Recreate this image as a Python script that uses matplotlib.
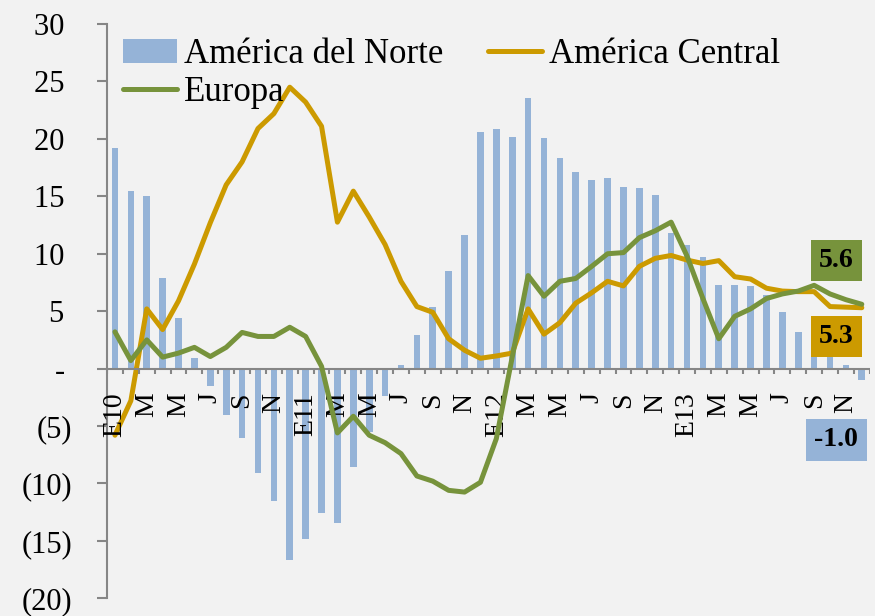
import matplotlib
matplotlib.use("Agg")
import matplotlib.pyplot as plt
import numpy as np

# monthly growth, Jan 2010 - Dec 2013
norte = [19.2, 15.5, 15.0, 7.9, 4.4, 0.9, -1.5, -4.0, -6.0, -9.1, -11.5, -16.7,
         -14.85, -12.6, -13.4, -8.6, -5.5, -2.35, 0.3, 2.9, 5.35, 8.5, 11.6, 20.6,
         20.9, 20.2, 23.6, 20.1, 18.3, 17.1, 16.4, 16.6, 15.85, 15.7, 15.15, 11.8,
         10.8, 9.75, 7.3, 7.3, 7.15, 6.4, 4.9, 3.2, 1.8, 1.0, 0.35, -1.0]
central = [-5.8, -2.8, 5.2, 3.4, 5.9, 9.1, 12.7, 16.0, 18.0, 20.9, 22.2, 24.5,
           23.2, 21.1, 12.75, 15.45, 13.2, 10.8, 7.6, 5.4, 4.9, 2.6, 1.6, 0.9,
           1.1, 1.35, 5.2, 3.0, 4.0, 5.7, 6.6, 7.6, 7.2, 8.9, 9.6, 9.85,
           9.45, 9.15, 9.4, 8.0, 7.8, 7.0, 6.75, 6.7, 6.7, 5.4, 5.35, 5.3]
europa = [3.2, 0.7, 2.5, 1.0, 1.35, 1.85, 1.05, 1.85, 3.15, 2.8, 2.8, 3.6,
          2.8, 0.2, -5.6, -4.15, -5.8, -6.45, -7.4, -9.35, -9.8, -10.6, -10.75, -9.9,
          -6.1, 1.0, 8.1, 6.3, 7.6, 7.85, 8.9, 10.0, 10.1, 11.4, 12.0, 12.75,
          9.8, 6.1, 2.6, 4.55, 5.2, 6.1, 6.5, 6.75, 7.25, 6.5, 6.0, 5.6]
month_labels = ['E10', 'M', 'M', 'J', 'S', 'N', 'E11', 'M', 'M', 'J', 'S', 'N',
                'E12', 'M', 'M', 'J', 'S', 'N', 'E13', 'M', 'M', 'J', 'S', 'N']
y_ticks = [30, 25, 20, 15, 10, 5, 0, -5, -10, -15, -20]
y_labels = ['30 ', '25 ', '20 ', '15 ', '10 ', '5 ', '- ', '(5)', '(10)', '(15)', '(20)']
end_labels = ['5.6', '5.3', '-1.0']

c_norte = '#95B3D7'
c_central = '#CC9A00'
c_europa = '#77933C'
bg = '#F2F2F2'
grey = '#868686'

plt.rcParams['font.family'] = ['Liberation Serif', 'DejaVu Serif']

fig = plt.figure(figsize=(8.75, 6.16), dpi=100, facecolor=bg)
ax = fig.add_axes([0.1223, 0.0287, 0.8717, 0.9323])
ax.set_facecolor(bg)

x = np.arange(len(norte))
bars = ax.bar(x, norte, width=0.42, color=c_norte, label='América del Norte', zorder=2)
l_cen, = ax.plot(x, central, color=c_central, lw=3.6, label='América Central',
                 solid_capstyle='round', zorder=3)
l_eur, = ax.plot(x, europa, color=c_europa, lw=3.6, label='Europa',
                 solid_capstyle='round', zorder=4)

ax.set_xlim(-0.5, len(norte) - 0.5)
ax.set_ylim(-20, 30)

# ejes
for s in ['top', 'right', 'bottom']:
    ax.spines[s].set_visible(False)
ax.spines['left'].set_color(grey)
ax.spines['left'].set_linewidth(1.5)
ax.axhline(0, color=grey, lw=1.5, zorder=3)

ax.set_yticks(y_ticks)
ax.set_yticklabels(y_labels, fontsize=22)
ax.tick_params(axis='y', length=7, width=1.5, color=grey, pad=18)

# tick marks between categories, labels every other month below the zero line
ax.set_xticks([])
for i in range(len(norte) + 1):
    ax.plot([i - 0.5, i - 0.5], [0, -0.5], color=grey, lw=1.5, zorder=3,
            solid_capstyle='butt')
for pos, lab in zip(x[::2], month_labels):
    ax.annotate(lab, xy=(pos, 0), xycoords='data', xytext=(0, -24),
                textcoords='offset pixels', rotation=90, ha='center', va='top',
                fontsize=20)

leg = ax.legend([bars, l_eur, l_cen], ['América del Norte', 'Europa', 'América Central'],
                ncol=2, loc='upper left', bbox_to_anchor=(0.003, 1.0),
                frameon=False, fontsize=25, handlelength=1.55, handletextpad=0.2,
                columnspacing=1.3, labelspacing=0.15, borderaxespad=0.0)

box_x = 45.4
for txt, yy, col in zip(end_labels, [9.4, 2.8, -6.2], [c_europa, c_central, c_norte]):
    ax.text(box_x, yy, txt, ha='center', va='center', fontsize=20, fontweight='bold',
            zorder=6, bbox=dict(boxstyle='square,pad=0.3', fc=col, ec='none'))

fig.savefig('out.png', dpi=100, facecolor=bg)
